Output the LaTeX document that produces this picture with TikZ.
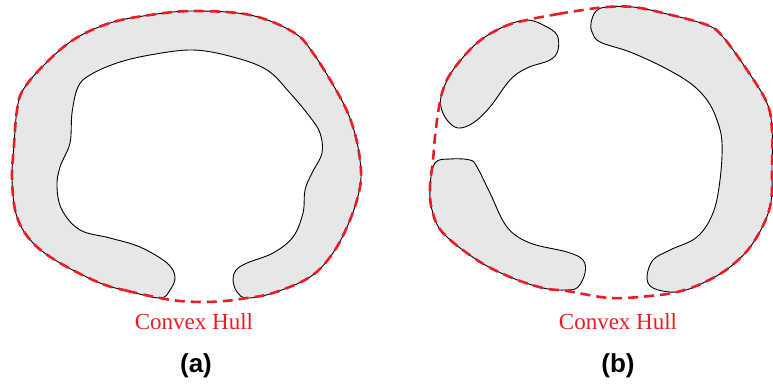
\documentclass[tikz,border=0pt]{standalone}
\usepackage{fontspec}
\setmainfont{Liberation Serif}
\newfontfamily\panelfont{Liberation Sans}
\usetikzlibrary{positioning}
\definecolor{hullred}{RGB}{237,28,36}
\definecolor{blobgray}{RGB}{230,231,232}

\tikzset{
  blob/.style={fill=blobgray,draw=black,line width=0.9pt},
  hull/.style={draw=hullred,line width=2.6pt,dash pattern=on 10pt off 6pt},
  hulltext/.style={text=hullred,font=\fontsize{23}{26}\selectfont,anchor=base},
  paneltext/.style={font=\panelfont\bfseries\fontsize{26}{30}\selectfont,anchor=base},
}

\begin{document}
\begin{tikzpicture}[x=1pt,y=-1pt]
  \useasboundingbox (0,0) rectangle (773,387);
  % (a) one open ring
  \begin{scope}
     \draw[blob] plot[smooth cycle,tension=0.6] coordinates {
       (160,298) (128,291) (100,283) (60,263) (33,243) (17,217) (12,180)
       (14,145) (17,110) (23,90) (43,66) (73,40) (110,23) (150,15) (193,11)
       (250,15) (293,32) (313,53) (340,97) (353,127) (360,160) (360,187)
       (350,220) (333,253) (310,277) (273,293) (247,298) (237,292) (233,280)
       (236,270) (247,263) (273,253) (293,237) (303,213) (305,190) (312,173)
       (322,153) (320,133) (310,117) (290,93) (267,70) (233,57) (193,50)
       (150,55) (117,63) (90,75) (78,87) (72,113) (70,143) (60,167) (57,187)
       (62,210) (80,230) (110,238) (140,247) (167,263) (175,277) (170,290)};
     \draw[hull] plot[smooth cycle,tension=0.6] coordinates {
       (160,298) (128,291) (100,283) (60,263) (33,243) (17,217) (12,180)
       (14,145) (17,110) (23,90) (43,66) (73,40) (110,23) (150,15) (193,11)
       (250,15) (293,32) (313,53) (340,97) (353,127) (360,160) (360,187)
       (350,220) (333,253) (310,277) (273,293) (247,298) (225,301) (203,302)
       (180,301)};
     \node[hulltext] (hullA) at (194,329) {Convex Hull};
     \node[paneltext] (labA) at (196,372) {(a)};
  \end{scope}
  % (b) three pieces
  \begin{scope}
     \draw[blob] plot[smooth cycle,tension=0.6] coordinates {
       (527,20) (545,26) (557,35) (558,50) (550,60) (527,68) (510,80)
       (490,107) (473,123) (458,128) (447,120) (441,107) (442,93) (453,70)
       (477,43) (503,27)};
     \draw[blob] plot[smooth cycle,tension=0.6] coordinates {
       (435,163) (450,159) (470,160) (477,167) (490,193) (507,227) (530,243)
       (567,252) (583,260) (585,273) (578,287) (567,290) (543,288) (510,277)
       (477,260) (443,233) (432,210) (430,187)};
     \draw[blob] plot[smooth cycle,tension=0.6] coordinates {
       (591,23) (596,11) (607,7) (633,7) (663,13) (707,25) (723,37) (747,70)
       (767,103) (772,130) (772,165) (770,207) (753,243) (730,267) (703,283)
       (677,292) (653,288) (647,277) (653,260) (670,250) (697,237) (713,213)
       (720,180) (722,143) (717,120) (707,100) (690,83) (663,67) (630,52)
       (600,42) (592,32)};
     \draw[hull] plot[smooth cycle,tension=0.6] coordinates {
       (527,20) (558,14) (583,10) (607,7) (633,7) (663,13) (707,25) (723,37)
       (747,70) (767,103) (772,130) (772,165) (770,207) (753,243) (730,267)
       (703,283) (677,292) (650,296) (610,298) (567,291) (543,288) (510,277)
       (477,260) (443,233) (432,210) (430,187) (433,160) (436,128) (442,93)
       (453,70) (477,43) (503,27)};
     \node[hulltext] (hullB) at (618,329) {Convex Hull};
     \node[paneltext] (labB) at (618,372) {(b)};
  \end{scope}
\end{tikzpicture}
\end{document}
